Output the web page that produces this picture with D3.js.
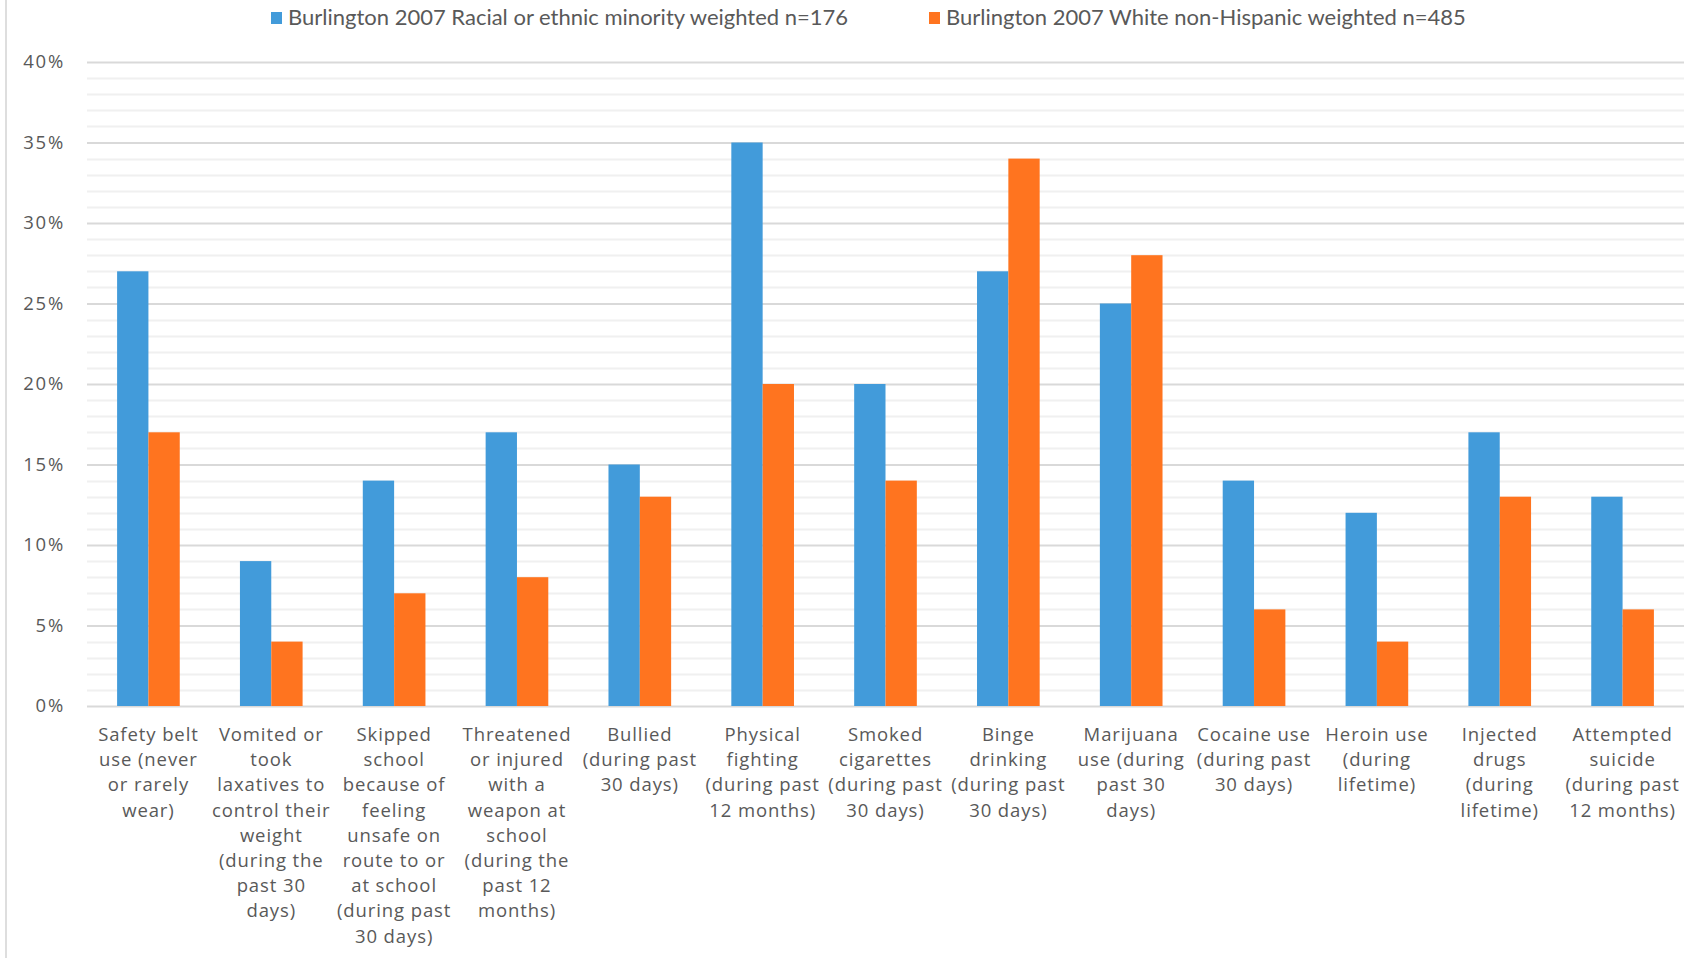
<!DOCTYPE html>
<html>
<head>
<meta charset="utf-8">
<script src="https://cdn.jsdelivr.net/npm/d3@7"></script>
<style>
  html, body { margin: 0; padding: 0; background: #fff; }
  svg { display: block; }
</style>
</head>
<body>
<svg id="chart" width="1698" height="958"></svg>
<script>
// Risk behaviours, Burlington 2007, percent of students
const categories = [
  ["Safety belt", "use (never", "or rarely", "wear)"],
  ["Vomited or", "took", "laxatives to", "control their", "weight", "(during the", "past 30", "days)"],
  ["Skipped", "school", "because of", "feeling", "unsafe on", "route to or", "at school", "(during past", "30 days)"],
  ["Threatened", "or injured", "with a", "weapon at", "school", "(during the", "past 12", "months)"],
  ["Bullied", "(during past", "30 days)"],
  ["Physical", "fighting", "(during past", "12 months)"],
  ["Smoked", "cigarettes", "(during past", "30 days)"],
  ["Binge", "drinking", "(during past", "30 days)"],
  ["Marijuana", "use (during", "past 30", "days)"],
  ["Cocaine use", "(during past", "30 days)"],
  ["Heroin use", "(during", "lifetime)"],
  ["Injected", "drugs", "(during", "lifetime)"],
  ["Attempted", "suicide", "(during past", "12 months)"]
];
const minorityValues = [27, 9, 14, 17, 15, 35, 20, 27, 25, 14, 12, 17, 13];
const whiteValues    = [17, 4, 7, 8, 13, 20, 14, 34, 28, 6, 4, 13, 6];
const seriesNames = [
  "Burlington 2007 Racial or ethnic minority weighted n=176",
  "Burlington 2007 White non-Hispanic weighted n=485"
];
const seriesColors = ["#429bda", "#ff741f"];
const yTicks = [0, 5, 10, 15, 20, 25, 30, 35, 40];
const yTickLabels = ["0%", "5%", "10%", "15%", "20%", "25%", "30%", "35%", "40%"];

const svg = d3.select("#chart");
const W = 1698, H = 958;
const m = { left: 87, right: W - 1684, top: 62, bottom: H - 706 };
const innerW = W - m.left - m.right;
const innerH = H - m.top - m.bottom;
const textColor = "#595959";
const font = "'Open Sans', sans-serif";

// outer frame edge on the left
svg.append("line")
  .attr("x1", 6).attr("x2", 6).attr("y1", 0).attr("y2", H)
  .attr("stroke", "#dedede").attr("stroke-width", 2);

const g = svg.append("g").attr("transform", `translate(${m.left},${m.top})`);

const idx = d3.range(categories.length);
const x = d3.scaleBand().domain(idx).range([0, innerW]).padding(0);
const xSub = d3.scaleBand().domain([0, 1])
  .range([x.bandwidth() * 0.245, x.bandwidth() * 0.755]).padding(0);
const y = d3.scaleLinear().domain([0, 40]).range([innerH, 0]);

// minor gridlines every 1%
g.append("g").selectAll("line")
  .data(d3.range(1, 40).filter(v => v % 5 !== 0))
  .join("line")
  .attr("x1", 0).attr("x2", innerW)
  .attr("y1", d => Math.round(y(d)) + 0.5).attr("y2", d => Math.round(y(d)) + 0.5)
  .attr("stroke", "#f0f0f0").attr("stroke-width", 2);

// major gridlines and y labels
const yAxis = d3.axisLeft(y).tickValues(yTicks)
  .tickSize(-innerW).tickPadding(22)
  .tickFormat((d, i) => yTickLabels[i]);
const ya = g.append("g").call(yAxis);
ya.select(".domain").remove();
ya.selectAll(".tick line").attr("stroke", "#d9d9d9").attr("stroke-width", 2);
ya.selectAll(".tick text")
  .attr("fill", textColor).attr("font-family", font).attr("font-size", 18.5)
  .attr("letter-spacing", 1.8);

// bars
const series = [minorityValues, whiteValues];
series.forEach((vals, s) => {
  g.append("g").selectAll("rect")
    .data(vals)
    .join("rect")
    .attr("x", (d, i) => x(i) + xSub(s))
    .attr("width", xSub.bandwidth())
    .attr("y", d => y(d))
    .attr("height", d => y(0) - y(d))
    .attr("fill", seriesColors[s]);
});

// category labels, pre-wrapped
const lineH = 25.2;
const labels = g.append("g")
  .attr("font-family", font).attr("font-size", 18.5).attr("fill", textColor)
  .attr("letter-spacing", 0.9)
  .attr("text-anchor", "middle");
categories.forEach((lines, i) => {
  const cx = x(i) + x.bandwidth() / 2;
  const t = labels.append("text")
    .attr("x", cx)
    .attr("y", innerH + 35);
  lines.forEach((ln, j) => {
    t.append("tspan").attr("x", cx)
      .attr("dy", j === 0 ? 0 : lineH).text(ln);
  });
});

// legend
const legendX = [271, 929];
const legend = svg.append("g").attr("font-family", "Lato, sans-serif").attr("font-size", 22)
  .attr("fill", textColor);
seriesNames.forEach((name, s) => {
  legend.append("rect").attr("x", legendX[s]).attr("y", 12)
    .attr("width", 11).attr("height", 12).attr("fill", seriesColors[s]);
  legend.append("text").attr("x", legendX[s] + 17).attr("y", 25).text(name);
});
</script>
</body>
</html>
